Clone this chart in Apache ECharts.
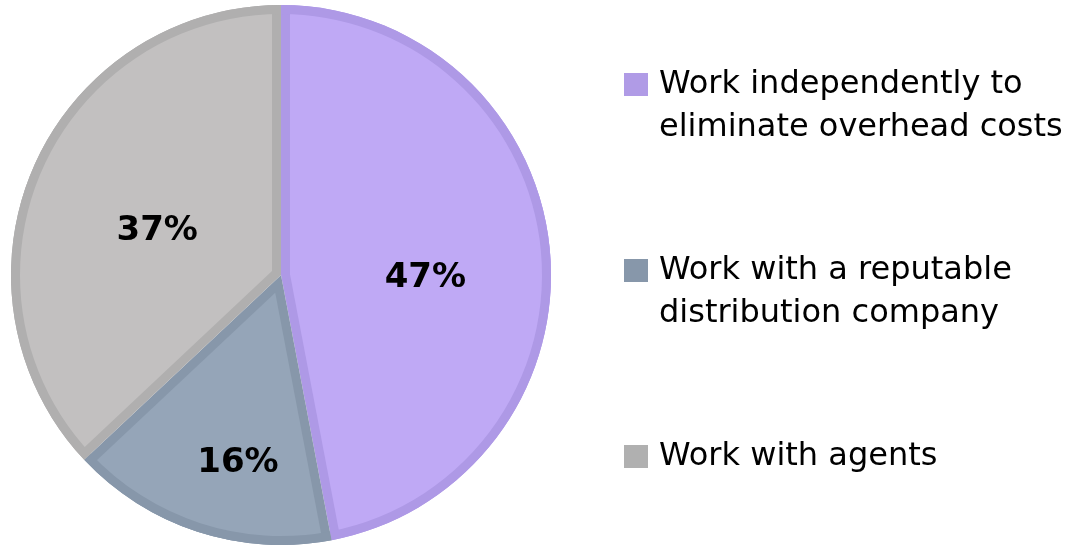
<!DOCTYPE html>
<html>
<head>
<meta charset="utf-8">
<script src="https://cdn.jsdelivr.net/npm/echarts@6/dist/echarts.min.js"></script>
<style>
  html, body { margin: 0; padding: 0; background: #ffffff; }
  #chart { width: 1081px; height: 547px; }
</style>
</head>
<body>
<div id="chart"></div>
<script>
// Survey answers: preferred way of working
const categories = [
  'Work independently to\neliminate overhead costs',
  'Work with a reputable\ndistribution company',
  'Work with agents'
];
const shares = [47, 16, 37];

const fillColors = ['#bfa9f5', '#95a5b8', '#c2c0c0'];
const edgeColors = ['#ae99e6', '#8797aa', '#b0afaf'];
const swatchColors = ['#b09be6', '#8797aa', '#b0b0b0'];
// fine placement of each percentage label from its slice centre
const labelOffsets = [[9, 16], [-1, 59], [1, 10]];

const FONT = '"DejaVu Sans", sans-serif';
const CENTER = [281, 275];
const R = 270;        // outer radius of the pie
const EDGE = 9;       // width of the darker inner rim of every slice
const NONE = 'rgba(0,0,0,0)';

const total = shares.reduce((a, b) => a + b, 0);

const chart = echarts.init(document.getElementById('chart'), null, { renderer: 'canvas' });

// legend entries: coloured square + wrapped text
const rich = {};
swatchColors.forEach((c, i) => {
  rich['sw' + i] = { width: 24, height: 23, backgroundColor: c, verticalAlign: 'middle' };
});
rich.gap = { width: 11 };
rich.pad = { width: 35 };
rich.t = { fontFamily: FONT, fontSize: 32, color: '#000000', lineHeight: 43 };

const basePie = {
  type: 'pie',
  center: CENTER,
  startAngle: 90,
  clockwise: true,
  silent: true,
  avoidLabelOverlap: false,
  label: { show: false },
  labelLine: { show: false },
  emphasis: { disabled: true },
  itemStyle: { borderWidth: 0 }
};

const series = [];

// rim colour underneath every slice
series.push(Object.assign({}, basePie, {
  name: 'rim',
  radius: [0, R],
  data: categories.map((name, i) => ({ name: name, value: shares[i], itemStyle: { color: edgeColors[i] } }))
}));

// slice faces, each pushed inward along its bisector so the rim shows
// at an even width along both straight edges
categories.forEach((cat, k) => {
  const half = shares[k] / total * Math.PI;
  const shift = EDGE / Math.max(Math.sin(Math.min(half, Math.PI / 2)), 0.2);
  series.push(Object.assign({}, basePie, {
    name: 'face' + k,
    radius: [0, R - shift],
    selectedMode: 'single',
    selectedOffset: shift,
    data: categories.map((name, i) => ({
      name: name,
      value: shares[i],
      selected: i === k,
      itemStyle: { color: i === k ? fillColors[i] : NONE }
    }))
  }));
});

// outer rim band
series.push(Object.assign({}, basePie, {
  name: 'outer',
  radius: [R - EDGE, R],
  data: categories.map((name, i) => ({ name: name, value: shares[i], itemStyle: { color: edgeColors[i] } }))
}));

// percentage labels
series.push(Object.assign({}, basePie, {
  name: 'labels',
  radius: [0, R - 4],
  z: 5,
  label: {
    show: true,
    position: 'inside',
    formatter: '{c}%',
    fontFamily: FONT,
    fontWeight: 'bold',
    fontSize: 34,
    color: '#000000'
  },
  data: categories.map((name, i) => ({
    name: name,
    value: shares[i],
    itemStyle: { color: NONE },
    label: { offset: labelOffsets[i] }
  }))
}));

chart.setOption({
  animation: false,
  legend: {
    orient: 'vertical',
    left: 614,
    top: 58,
    itemGap: 100,
    itemWidth: 0,
    itemHeight: 0,
    icon: 'rect',
    selectedMode: false,
    data: categories,
    formatter: function (name) {
      const i = categories.indexOf(name);
      const lines = name.split('\n');
      let s = '{sw' + i + '|}{gap|}{t|' + lines[0] + '}';
      for (let k = 1; k < lines.length; k++) {
        s += '\n{pad|}{t|' + lines[k] + '}';
      }
      return s;
    },
    textStyle: { rich: rich, lineHeight: 43, padding: 0 }
  },
  series: series
});
</script>
</body>
</html>
